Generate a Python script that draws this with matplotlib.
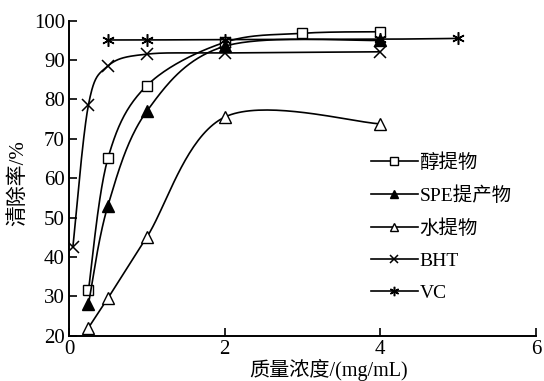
import numpy as np
import matplotlib
matplotlib.use('Agg')
import matplotlib.pyplot as plt

plt.rcParams['font.family'] = ['Liberation Serif', 'Noto Sans CJK SC']
plt.rcParams['axes.unicode_minus'] = False

# 数据
x_ethanol = [0.25, 0.5, 1, 2, 3, 4]
y_ethanol = [31.5, 65.0, 83.5, 94.5, 96.8, 97.2]

x_spe = [0.25, 0.5, 1, 2, 4]
y_spe = [28.0, 53.0, 77.0, 93.5, 95.0]

x_water = [0.25, 0.5, 1, 2, 4]
y_water = [22.0, 29.5, 45.0, 75.5, 73.8]

x_bht = [0.05, 0.25, 0.5, 1, 2, 4]
y_bht = [42.5, 78.6, 88.5, 91.5, 91.8, 92.1]

x_vc = [0.5, 1, 2, 4, 5]
y_vc = [95.1, 95.1, 95.2, 95.3, 95.5]

labels = ['醇提物', 'SPE提产物', '水提物', 'BHT', 'VC']
x_ticks = [0, 2, 4, 6]
y_ticks = [20, 30, 40, 50, 60, 70, 80, 90, 100]


def smooth(ax, xs, ys, n=40):
    # Excel-like smoothed line, computed in display space
    pts = ax.transData.transform(np.column_stack([xs, ys]))
    out = [pts[0]]
    m = len(pts)
    for i in range(m - 1):
        p0 = pts[i - 1] if i > 0 else pts[i]
        p1 = pts[i]
        p2 = pts[i + 1]
        p3 = pts[i + 2] if i + 2 < m else pts[i + 1]
        c1 = p1 + (p2 - p0) / 6
        c2 = p2 - (p3 - p1) / 6
        t = np.linspace(0, 1, n)[1:, None]
        seg = ((1 - t) ** 3) * p1 + 3 * ((1 - t) ** 2) * t * c1 + 3 * (1 - t) * t ** 2 * c2 + t ** 3 * p2
        out.extend(seg)
    out = np.array(out)
    data = ax.transData.inverted().transform(out)
    return data[:, 0], data[:, 1]


fig = plt.figure(figsize=(5.44, 3.81), dpi=100)
ax = fig.add_axes([0.1268, 0.119, 0.8582, 0.8267])
ax.set_xlim(0, 6)
ax.set_ylim(20, 100)

series = [
    (x_ethanol, y_ethanol, dict(marker='s', mfc='white', ms=7.5)),
    (x_spe, y_spe, dict(marker='^', mfc='black', ms=8)),
    (x_water, y_water, dict(marker='^', mfc='white', ms=8)),
    (x_bht, y_bht, dict(marker='x', mfc='none', ms=8, mew=1.1)),
    (x_vc, y_vc, dict(marker=(6, 2, 0), mfc='none', ms=9, mew=1.1)),
]

for (xs, ys, mk), lab in zip(series, labels):
    sx, sy = smooth(ax, xs, ys)
    ax.plot(sx, sy, color='black', lw=1.2)
    ax.plot(xs, ys, ls='none', color='black', mec='black', **mk)
    ax.plot([], [], color='black', lw=1.2, label=lab,
            **{k: v * 0.75 if k == 'ms' else v for k, v in mk.items()})

for s in ['top', 'right']:
    ax.spines[s].set_visible(False)
for s in ['left', 'bottom']:
    ax.spines[s].set_linewidth(1.4)

ax.set_xticks(x_ticks)
ax.set_yticks(y_ticks)
ax.tick_params(direction='in', length=6, width=1.2, labelsize=15, pad=3)

ax.set_xlabel('质量浓度/(mg/mL)', fontsize=14.5)
ax.xaxis.set_label_coords(0.557, -0.075)
ax.set_ylabel('清除率/%', fontsize=15)
ax.yaxis.set_label_coords(-0.088, 0.485)

ax.legend(loc='upper left', bbox_to_anchor=(0.63, 0.605), frameon=False,
          fontsize=14, handlelength=2.4, handletextpad=0.1, labelspacing=0.74,
          borderaxespad=0)

fig.savefig('out.png', dpi=100)
